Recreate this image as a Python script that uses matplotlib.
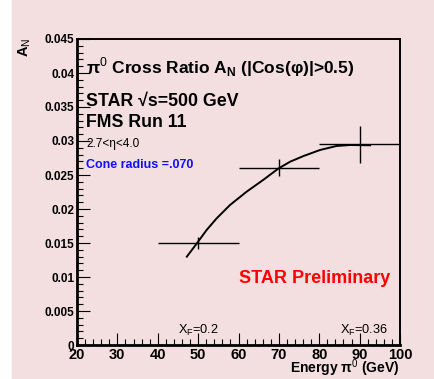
import numpy as np
import matplotlib
matplotlib.use("Agg")
import matplotlib.pyplot as plt
from matplotlib.ticker import MultipleLocator, FuncFormatter

plt.rcParams['font.family'] = ['Liberation Sans', 'DejaVu Sans']
plt.rcParams['mathtext.fontset'] = 'custom'
plt.rcParams['mathtext.rm'] = 'Liberation Sans'
plt.rcParams['mathtext.bf'] = 'Liberation Sans:bold'

# measured points
energy = [50.0, 70.0, 90.0]
energy_err = [10.0, 10.0, 10.0]
a_n = [0.0150, 0.0261, 0.0295]
a_n_err = [0.0009, 0.0012, 0.0027]

# pol2 fit curve
fit_x = [47.2, 49.7, 52.1, 54.6, 57.9, 62.0, 66.1, 69.9, 72.8, 76.1, 80.2, 84.3,
         87.6, 92.6]
fit_y = [0.01299, 0.01496, 0.01691, 0.01863, 0.02059, 0.02254, 0.02427, 0.02596,
         0.02696, 0.02779, 0.02868, 0.02927, 0.02941, 0.02937]

W, H = 435, 379
BG = '#f3dfdf'


def fx(px):
    return px / W


def fy(py):
    return 1 - py / H


fig = plt.figure(figsize=(W / 100, H / 100), dpi=100)
fig.patches.append(plt.Rectangle((fx(12), 0), 1, 1, transform=fig.transFigure,
                                 color=BG, zorder=-10))
ax = fig.add_axes([fx(77), fy(345), fx(400) - fx(77), fy(39) - fy(345)])
ax.set_zorder(1)
ax.set_facecolor(BG)

ax.errorbar(energy, a_n, xerr=energy_err, yerr=a_n_err, fmt='none',
            ecolor='black', elinewidth=1.0, capsize=0)
ax.plot(fit_x, fit_y, color='black', lw=1.4)

ax.set_xlim(20, 100)
ax.set_ylim(0, 0.045)
ax.xaxis.set_major_locator(MultipleLocator(10))
ax.xaxis.set_minor_locator(MultipleLocator(2))
ax.yaxis.set_major_locator(MultipleLocator(0.005))
ax.yaxis.set_minor_locator(MultipleLocator(0.001))
ax.yaxis.set_major_formatter(FuncFormatter(lambda v, p: f"{round(v, 4):g}"))
ax.tick_params(which='both', direction='in', top=False, right=False, color='black')
ax.tick_params(which='major', length=9, width=0.8)
ax.tick_params(which='minor', length=4.5, width=0.8)
ax.tick_params(axis='x', labelsize=10.5, pad=2)
ax.tick_params(axis='y', labelsize=8.5, pad=2)
for lab in ax.get_xticklabels() + ax.get_yticklabels():
    lab.set_fontweight('bold')
ax.spines['left'].set_linewidth(2)
ax.spines['bottom'].set_linewidth(2)
ax.spines['top'].set_linewidth(1.4)
ax.spines['right'].set_linewidth(1.4)

# texts
fig.text(fx(86), fy(73), 'π$^{0}$ Cross Ratio A$_{\\mathbf{N}}$ (|Cos(φ)|>0.5)',
         fontsize=12.5, fontweight='bold', va='baseline')
fig.text(fx(86), fy(106), 'STAR \u221As=500 GeV', fontsize=12.8, fontweight='bold',
         va='baseline')
fig.text(fx(86), fy(127), 'FMS Run 11', fontsize=12.8, fontweight='bold', va='baseline')
fig.text(fx(86), fy(147), '2.7<η<4.0', fontsize=8.5, va='baseline')
fig.text(fx(86), fy(168), 'Cone radius =.070', fontsize=9, fontweight='bold',
         color='#1010ff', va='baseline')
fig.text(fx(239), fy(283), 'STAR Preliminary', fontsize=13, fontweight='bold',
         color='#ff0000', va='baseline')
fig.text(fx(178), fy(334), r'X$_{\mathrm{F}}$=0.2', fontsize=9.2, va='baseline')
fig.text(fx(340), fy(334), r'X$_{\mathrm{F}}$=0.36', fontsize=9.2, va='baseline')
fig.text(fx(400), fy(373), 'Energy π$^{0}$ (GeV)', fontsize=10, fontweight='bold',
         ha='right', va='baseline')
fig.text(fx(33), fy(38), r'A$_{\mathrm{N}}$', fontsize=10.5, fontweight='bold',
         rotation=90, ha='right', va='top')

fig.savefig('out.png', dpi=100)
